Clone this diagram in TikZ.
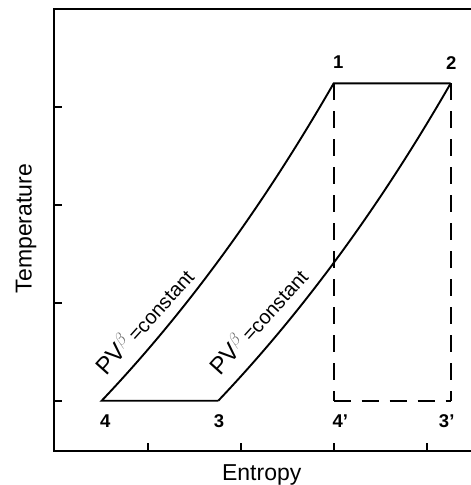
\documentclass[tikz,border=0pt]{standalone}
\usepackage{fontspec}
\setmainfont{Liberation Sans}
\begin{document}
\begin{tikzpicture}[x=1pt,y=-1pt,
  frame/.style={line width=2pt},
  curve/.style={line width=1.9pt},
  dashline/.style={line width=2pt, dash pattern=on 17pt off 11pt},
  tick/.style={line width=1.8pt},
  ptlabel/.style={font=\fontsize{18.5}{18.5}\selectfont\bfseries, anchor=base, inner sep=0pt},
  axlabel/.style={font=\fontsize{23}{23}\selectfont, anchor=base, inner sep=0pt},
  pvlabel/.style={anchor=base west, inner sep=0pt, rotate=48}]
\useasboundingbox (0,0) rectangle (471,485);
\fill[white] (0,0) rectangle (471,485);
% frame
\draw[frame] (475,9.3) -- (54.3,9.3) -- (54.3,450.7) -- (475,450.7);
% ticks
\foreach \y in {106.7,205,303.3,401} \draw[tick] (54.3,\y) -- (62,\y);
\foreach \x in {147.7,240.7,333.7,427.3} \draw[tick] (\x,450.7) -- (\x,442.7);
% points
\coordinate (P1) at (333.7,83.3);
\coordinate (P2) at (450.7,83.3);
\coordinate (P3) at (218.3,400.7);
\coordinate (P4) at (101.7,400.7);
\coordinate (P4p) at (333.7,400.7);
\coordinate (P3p) at (450.7,400.7);
% cycle
\draw[curve, line join=miter] (P3) -- (P4) .. controls +(77.3,-81.5) and +(-77.3,134.3) .. (P1) -- (P2);
\draw[curve] (P3) .. controls +(77.3,-81.5) and +(-77.3,134.3) .. (P2);
% dashed
\draw[dashline] (P1) -- (P4p);
\draw[dashline] (P2) -- (P3p);
\draw[dashline] (P4p) -- (P3p);
% point labels
\node[ptlabel] (L1) at (338.3,68.5) {1};
\node[ptlabel] (L2) at (451.3,69) {2};
\node[ptlabel] (L4) at (105.3,427.7) {4};
\node[ptlabel] (L3) at (219,427.7) {3};
\node[ptlabel] (L4p) at (340.3,427.7) {4’};
\node[ptlabel] (L3p) at (446.7,427.7) {3’};
% axis labels
\node[axlabel] (xl) at (261.7,480) {Entropy};
\node[axlabel, rotate=90] (yl) at (31.5,228.5) {Temperature};
% curve labels
\node[pvlabel] (pv1) at (106,377) {\fontsize{24}{24}\selectfont PV\raisebox{9pt}{\fontsize{17}{17}\selectfont\color{black!60}$\beta$}\fontsize{20}{20}\selectfont\,=constant};
\node[pvlabel] (pv2) at (220,377) {\fontsize{24}{24}\selectfont PV\raisebox{9pt}{\fontsize{17}{17}\selectfont\color{black!60}$\beta$}\fontsize{20}{20}\selectfont\,=constant};
\end{tikzpicture}
\end{document}
